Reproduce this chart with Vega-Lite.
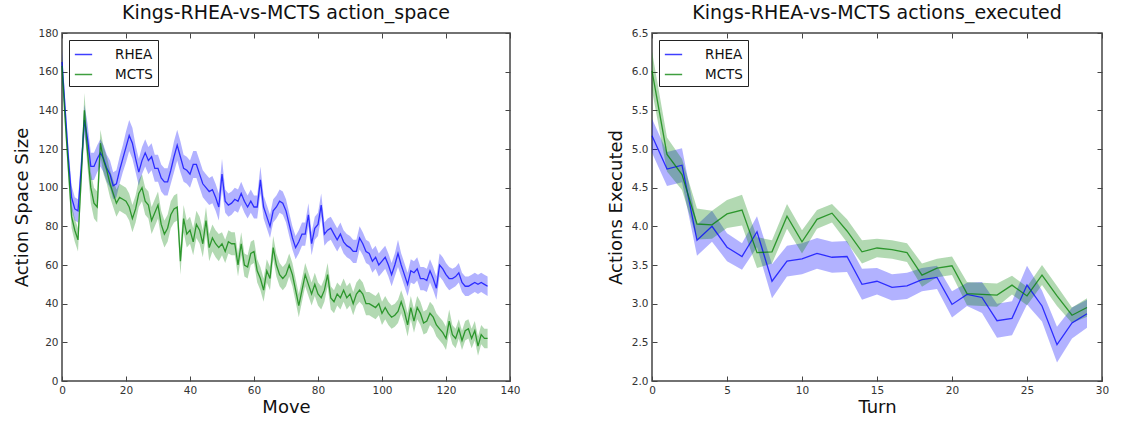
{
  "$schema": "https://vega.github.io/schema/vega-lite/v6.json",
  "padding": {"left": 13, "top": 3, "right": 5, "bottom": 5},
  "spacing": 85,
  "config": {
    "font": "DejaVu Sans",
    "view": {"stroke": "#444", "strokeWidth": 1.5},
    "axis": {"grid": false, "domain": false, "tickColor": "#444", "tickSize": -5, "labelColor": "#333", "labelFontSize": 10.5, "labelPadding": 9, "labelOverlap": false, "labelFlush": false, "labelBound": false, "titleFontSize": 18, "titleFontWeight": "normal", "titleColor": "#111"},
    "title": {"fontSize": 19, "fontWeight": "normal", "color": "#111", "offset": 5},
    "legend": {"orient": "top-left", "offset": 7, "symbolType": "stroke", "symbolSize": 300, "symbolStrokeWidth": 1.5, "symbolOpacity": 0.75, "labelFontSize": 13.5, "labelColor": "#111", "strokeColor": "#222", "fillColor": "white", "padding": 5, "rowPadding": 4, "labelOffset": 22, "title": null}
  },
  "datasets": {
    "space": [
      {"m":0,"s":"RHEA","v":165,"e":6},{"m":1,"s":"RHEA","v":140,"e":6},{"m":2,"s":"RHEA","v":115,"e":6},{"m":3,"s":"RHEA","v":95,"e":6},{"m":4,"s":"RHEA","v":89,"e":6},{"m":5,"s":"RHEA","v":88,"e":6},{"m":6,"s":"RHEA","v":110,"e":7},{"m":7,"s":"RHEA","v":135,"e":8},{"m":8,"s":"RHEA","v":125,"e":8},{"m":9,"s":"RHEA","v":111,"e":7},
      {"m":10,"s":"RHEA","v":111,"e":7},{"m":11,"s":"RHEA","v":115,"e":7},{"m":12,"s":"RHEA","v":118,"e":7},{"m":13,"s":"RHEA","v":115,"e":7},{"m":14,"s":"RHEA","v":110,"e":7},{"m":15,"s":"RHEA","v":107,"e":7},{"m":16,"s":"RHEA","v":101,"e":7},{"m":17,"s":"RHEA","v":102,"e":7},{"m":18,"s":"RHEA","v":109,"e":7},{"m":19,"s":"RHEA","v":115,"e":7},
      {"m":20,"s":"RHEA","v":121,"e":8},{"m":21,"s":"RHEA","v":127,"e":8},{"m":22,"s":"RHEA","v":123,"e":8},{"m":23,"s":"RHEA","v":115,"e":7},{"m":24,"s":"RHEA","v":108,"e":7},{"m":25,"s":"RHEA","v":114,"e":7},{"m":26,"s":"RHEA","v":118,"e":7},{"m":27,"s":"RHEA","v":114,"e":7},{"m":28,"s":"RHEA","v":116,"e":7},{"m":29,"s":"RHEA","v":110,"e":7},
      {"m":30,"s":"RHEA","v":110,"e":7},{"m":31,"s":"RHEA","v":105,"e":7},{"m":32,"s":"RHEA","v":103,"e":7},{"m":33,"s":"RHEA","v":103,"e":7},{"m":34,"s":"RHEA","v":109,"e":7},{"m":35,"s":"RHEA","v":116,"e":8},{"m":36,"s":"RHEA","v":122,"e":8},{"m":37,"s":"RHEA","v":116,"e":8},{"m":38,"s":"RHEA","v":110,"e":7},{"m":39,"s":"RHEA","v":109,"e":7},
      {"m":40,"s":"RHEA","v":107,"e":7},{"m":41,"s":"RHEA","v":112,"e":7},{"m":42,"s":"RHEA","v":112,"e":7},{"m":43,"s":"RHEA","v":107,"e":7},{"m":44,"s":"RHEA","v":102,"e":7},{"m":45,"s":"RHEA","v":100,"e":7},{"m":46,"s":"RHEA","v":98,"e":7},{"m":47,"s":"RHEA","v":99,"e":7},{"m":48,"s":"RHEA","v":95,"e":7},{"m":49,"s":"RHEA","v":90,"e":7},
      {"m":50,"s":"RHEA","v":107,"e":8},{"m":51,"s":"RHEA","v":93,"e":6},{"m":52,"s":"RHEA","v":91,"e":6},{"m":53,"s":"RHEA","v":92,"e":6},{"m":54,"s":"RHEA","v":94,"e":6},{"m":55,"s":"RHEA","v":93,"e":6},{"m":56,"s":"RHEA","v":97,"e":6},{"m":57,"s":"RHEA","v":93,"e":6},{"m":58,"s":"RHEA","v":90,"e":6},{"m":59,"s":"RHEA","v":93,"e":6},
      {"m":60,"s":"RHEA","v":90,"e":6},{"m":61,"s":"RHEA","v":90,"e":6},{"m":62,"s":"RHEA","v":104,"e":7},{"m":63,"s":"RHEA","v":90,"e":6},{"m":64,"s":"RHEA","v":85,"e":6},{"m":65,"s":"RHEA","v":80,"e":6},{"m":66,"s":"RHEA","v":88,"e":6},{"m":67,"s":"RHEA","v":90,"e":6},{"m":68,"s":"RHEA","v":93,"e":6},{"m":69,"s":"RHEA","v":92,"e":6},
      {"m":70,"s":"RHEA","v":88,"e":6},{"m":71,"s":"RHEA","v":81,"e":6},{"m":72,"s":"RHEA","v":74,"e":6},{"m":73,"s":"RHEA","v":69,"e":6},{"m":74,"s":"RHEA","v":72,"e":6},{"m":75,"s":"RHEA","v":76,"e":6},{"m":76,"s":"RHEA","v":76,"e":6},{"m":77,"s":"RHEA","v":86,"e":6},{"m":78,"s":"RHEA","v":71,"e":6},{"m":79,"s":"RHEA","v":79,"e":6},
      {"m":80,"s":"RHEA","v":81,"e":6},{"m":81,"s":"RHEA","v":91,"e":6},{"m":82,"s":"RHEA","v":76,"e":6},{"m":83,"s":"RHEA","v":78,"e":6},{"m":84,"s":"RHEA","v":79,"e":6},{"m":85,"s":"RHEA","v":76,"e":6},{"m":86,"s":"RHEA","v":73,"e":6},{"m":87,"s":"RHEA","v":76,"e":6},{"m":88,"s":"RHEA","v":72,"e":6},{"m":89,"s":"RHEA","v":70,"e":6},
      {"m":90,"s":"RHEA","v":69,"e":6},{"m":91,"s":"RHEA","v":67,"e":6},{"m":92,"s":"RHEA","v":67,"e":6},{"m":93,"s":"RHEA","v":74,"e":6},{"m":94,"s":"RHEA","v":71,"e":6},{"m":95,"s":"RHEA","v":67,"e":6},{"m":96,"s":"RHEA","v":66,"e":6},{"m":97,"s":"RHEA","v":62,"e":6},{"m":98,"s":"RHEA","v":64,"e":6},{"m":99,"s":"RHEA","v":60,"e":6},
      {"m":100,"s":"RHEA","v":62,"e":6},{"m":101,"s":"RHEA","v":64,"e":6},{"m":102,"s":"RHEA","v":60,"e":6},{"m":103,"s":"RHEA","v":55,"e":6},{"m":104,"s":"RHEA","v":60,"e":6},{"m":105,"s":"RHEA","v":66,"e":7},{"m":106,"s":"RHEA","v":60,"e":6},{"m":107,"s":"RHEA","v":55,"e":6},{"m":108,"s":"RHEA","v":50,"e":6},{"m":109,"s":"RHEA","v":57,"e":6},
      {"m":110,"s":"RHEA","v":56,"e":6},{"m":111,"s":"RHEA","v":58,"e":6},{"m":112,"s":"RHEA","v":53,"e":6},{"m":113,"s":"RHEA","v":53,"e":6},{"m":114,"s":"RHEA","v":52,"e":6},{"m":115,"s":"RHEA","v":57,"e":6},{"m":116,"s":"RHEA","v":53,"e":6},{"m":117,"s":"RHEA","v":48,"e":6},{"m":118,"s":"RHEA","v":60,"e":6},{"m":119,"s":"RHEA","v":58,"e":6},
      {"m":120,"s":"RHEA","v":55,"e":6},{"m":121,"s":"RHEA","v":53,"e":6},{"m":122,"s":"RHEA","v":53,"e":5},{"m":123,"s":"RHEA","v":54,"e":5},{"m":124,"s":"RHEA","v":56,"e":5},{"m":125,"s":"RHEA","v":51,"e":5},{"m":126,"s":"RHEA","v":49,"e":5},{"m":127,"s":"RHEA","v":49,"e":5},{"m":128,"s":"RHEA","v":50,"e":5},{"m":129,"s":"RHEA","v":51,"e":5},
      {"m":130,"s":"RHEA","v":50,"e":5},{"m":131,"s":"RHEA","v":51,"e":5},{"m":132,"s":"RHEA","v":50,"e":5},{"m":133,"s":"RHEA","v":49,"e":5},
      {"m":0,"s":"MCTS","v":163,"e":6},{"m":1,"s":"MCTS","v":135,"e":6},{"m":2,"s":"MCTS","v":110,"e":6},{"m":3,"s":"MCTS","v":85,"e":6},{"m":4,"s":"MCTS","v":78,"e":6},{"m":5,"s":"MCTS","v":73,"e":6},{"m":6,"s":"MCTS","v":105,"e":7},{"m":7,"s":"MCTS","v":140,"e":9},{"m":8,"s":"MCTS","v":118,"e":8},{"m":9,"s":"MCTS","v":100,"e":8},
      {"m":10,"s":"MCTS","v":92,"e":8},{"m":11,"s":"MCTS","v":90,"e":8},{"m":12,"s":"MCTS","v":123,"e":7},{"m":13,"s":"MCTS","v":114,"e":7},{"m":14,"s":"MCTS","v":109,"e":7},{"m":15,"s":"MCTS","v":102,"e":7},{"m":16,"s":"MCTS","v":97,"e":7},{"m":17,"s":"MCTS","v":92,"e":7},{"m":18,"s":"MCTS","v":95,"e":7},{"m":19,"s":"MCTS","v":94,"e":7},
      {"m":20,"s":"MCTS","v":93,"e":7},{"m":21,"s":"MCTS","v":90,"e":7},{"m":22,"s":"MCTS","v":84,"e":7},{"m":23,"s":"MCTS","v":89,"e":7},{"m":24,"s":"MCTS","v":97,"e":7},{"m":25,"s":"MCTS","v":100,"e":7},{"m":26,"s":"MCTS","v":93,"e":7},{"m":27,"s":"MCTS","v":91,"e":7},{"m":28,"s":"MCTS","v":83,"e":7},{"m":29,"s":"MCTS","v":87,"e":7},
      {"m":30,"s":"MCTS","v":91,"e":7},{"m":31,"s":"MCTS","v":81,"e":7},{"m":32,"s":"MCTS","v":76,"e":7},{"m":33,"s":"MCTS","v":79,"e":7},{"m":34,"s":"MCTS","v":86,"e":7},{"m":35,"s":"MCTS","v":89,"e":7},{"m":36,"s":"MCTS","v":90,"e":7},{"m":37,"s":"MCTS","v":62,"e":7},{"m":38,"s":"MCTS","v":84,"e":7},{"m":39,"s":"MCTS","v":76,"e":7},
      {"m":40,"s":"MCTS","v":78,"e":7},{"m":41,"s":"MCTS","v":72,"e":7},{"m":42,"s":"MCTS","v":81,"e":7},{"m":43,"s":"MCTS","v":78,"e":7},{"m":44,"s":"MCTS","v":71,"e":7},{"m":45,"s":"MCTS","v":83,"e":7},{"m":46,"s":"MCTS","v":69,"e":7},{"m":47,"s":"MCTS","v":74,"e":7},{"m":48,"s":"MCTS","v":71,"e":7},{"m":49,"s":"MCTS","v":69,"e":7},
      {"m":50,"s":"MCTS","v":71,"e":6},{"m":51,"s":"MCTS","v":67,"e":6},{"m":52,"s":"MCTS","v":72,"e":6},{"m":53,"s":"MCTS","v":71,"e":6},{"m":54,"s":"MCTS","v":71,"e":6},{"m":55,"s":"MCTS","v":60,"e":6},{"m":56,"s":"MCTS","v":71,"e":6},{"m":57,"s":"MCTS","v":60,"e":6},{"m":58,"s":"MCTS","v":59,"e":6},{"m":59,"s":"MCTS","v":66,"e":6},
      {"m":60,"s":"MCTS","v":67,"e":6},{"m":61,"s":"MCTS","v":57,"e":6},{"m":62,"s":"MCTS","v":53,"e":6},{"m":63,"s":"MCTS","v":47,"e":6},{"m":64,"s":"MCTS","v":57,"e":6},{"m":65,"s":"MCTS","v":53,"e":6},{"m":66,"s":"MCTS","v":69,"e":6},{"m":67,"s":"MCTS","v":60,"e":6},{"m":68,"s":"MCTS","v":55,"e":6},{"m":69,"s":"MCTS","v":53,"e":6},
      {"m":70,"s":"MCTS","v":55,"e":6},{"m":71,"s":"MCTS","v":60,"e":6},{"m":72,"s":"MCTS","v":55,"e":6},{"m":73,"s":"MCTS","v":47,"e":6},{"m":74,"s":"MCTS","v":39,"e":6},{"m":75,"s":"MCTS","v":47,"e":6},{"m":76,"s":"MCTS","v":55,"e":6},{"m":77,"s":"MCTS","v":50,"e":6},{"m":78,"s":"MCTS","v":45,"e":6},{"m":79,"s":"MCTS","v":50,"e":6},
      {"m":80,"s":"MCTS","v":45,"e":6},{"m":81,"s":"MCTS","v":43,"e":6},{"m":82,"s":"MCTS","v":47,"e":6},{"m":83,"s":"MCTS","v":55,"e":6},{"m":84,"s":"MCTS","v":43,"e":6},{"m":85,"s":"MCTS","v":41,"e":6},{"m":86,"s":"MCTS","v":45,"e":6},{"m":87,"s":"MCTS","v":43,"e":6},{"m":88,"s":"MCTS","v":47,"e":6},{"m":89,"s":"MCTS","v":43,"e":6},
      {"m":90,"s":"MCTS","v":45,"e":6},{"m":91,"s":"MCTS","v":40,"e":6},{"m":92,"s":"MCTS","v":45,"e":6},{"m":93,"s":"MCTS","v":47,"e":6},{"m":94,"s":"MCTS","v":45,"e":6},{"m":95,"s":"MCTS","v":40,"e":6},{"m":96,"s":"MCTS","v":40,"e":6},{"m":97,"s":"MCTS","v":39,"e":6},{"m":98,"s":"MCTS","v":38,"e":6},{"m":99,"s":"MCTS","v":40,"e":6},
      {"m":100,"s":"MCTS","v":35,"e":6},{"m":101,"s":"MCTS","v":38,"e":6},{"m":102,"s":"MCTS","v":35,"e":6},{"m":103,"s":"MCTS","v":33,"e":6},{"m":104,"s":"MCTS","v":34,"e":6},{"m":105,"s":"MCTS","v":36,"e":6},{"m":106,"s":"MCTS","v":41,"e":6},{"m":107,"s":"MCTS","v":36,"e":6},{"m":108,"s":"MCTS","v":29,"e":6},{"m":109,"s":"MCTS","v":38,"e":6},
      {"m":110,"s":"MCTS","v":31,"e":6},{"m":111,"s":"MCTS","v":38,"e":6},{"m":112,"s":"MCTS","v":35,"e":6},{"m":113,"s":"MCTS","v":30,"e":6},{"m":114,"s":"MCTS","v":31,"e":6},{"m":115,"s":"MCTS","v":35,"e":6},{"m":116,"s":"MCTS","v":33,"e":6},{"m":117,"s":"MCTS","v":29,"e":6},{"m":118,"s":"MCTS","v":27,"e":6},{"m":119,"s":"MCTS","v":25,"e":6},
      {"m":120,"s":"MCTS","v":22,"e":6},{"m":121,"s":"MCTS","v":31,"e":6},{"m":122,"s":"MCTS","v":24,"e":5},{"m":123,"s":"MCTS","v":22,"e":5},{"m":124,"s":"MCTS","v":27,"e":5},{"m":125,"s":"MCTS","v":21,"e":5},{"m":126,"s":"MCTS","v":26,"e":5},{"m":127,"s":"MCTS","v":27,"e":5},{"m":128,"s":"MCTS","v":22,"e":5},{"m":129,"s":"MCTS","v":26,"e":5},
      {"m":130,"s":"MCTS","v":18,"e":5},{"m":131,"s":"MCTS","v":24,"e":5},{"m":132,"s":"MCTS","v":22,"e":5},{"m":133,"s":"MCTS","v":22,"e":5}
    ],
    "exec": [
      {"t":0,"s":"RHEA","v":5.17,"e":0.22},{"t":1,"s":"RHEA","v":4.74,"e":0.22},{"t":2,"s":"RHEA","v":4.79,"e":0.22},{"t":3,"s":"RHEA","v":3.82,"e":0.2},{"t":4,"s":"RHEA","v":4.0,"e":0.2},{"t":5,"s":"RHEA","v":3.73,"e":0.18},{"t":6,"s":"RHEA","v":3.61,"e":0.17},{"t":7,"s":"RHEA","v":3.93,"e":0.2},{"t":8,"s":"RHEA","v":3.29,"e":0.22},{"t":9,"s":"RHEA","v":3.55,"e":0.2},
      {"t":10,"s":"RHEA","v":3.58,"e":0.2},{"t":11,"s":"RHEA","v":3.65,"e":0.2},{"t":12,"s":"RHEA","v":3.6,"e":0.2},{"t":13,"s":"RHEA","v":3.61,"e":0.2},{"t":14,"s":"RHEA","v":3.25,"e":0.2},{"t":15,"s":"RHEA","v":3.29,"e":0.17},{"t":16,"s":"RHEA","v":3.21,"e":0.17},{"t":17,"s":"RHEA","v":3.23,"e":0.17},{"t":18,"s":"RHEA","v":3.31,"e":0.15},{"t":19,"s":"RHEA","v":3.34,"e":0.15},
      {"t":20,"s":"RHEA","v":2.99,"e":0.17},{"t":21,"s":"RHEA","v":3.12,"e":0.15},{"t":22,"s":"RHEA","v":3.08,"e":0.2},{"t":23,"s":"RHEA","v":2.78,"e":0.22},{"t":24,"s":"RHEA","v":2.81,"e":0.22},{"t":25,"s":"RHEA","v":3.24,"e":0.25},{"t":26,"s":"RHEA","v":2.97,"e":0.2},{"t":27,"s":"RHEA","v":2.47,"e":0.23},{"t":28,"s":"RHEA","v":2.75,"e":0.2},{"t":29,"s":"RHEA","v":2.87,"e":0.18},
      {"t":0,"s":"MCTS","v":6.01,"e":0.25},{"t":1,"s":"MCTS","v":4.93,"e":0.22},{"t":2,"s":"MCTS","v":4.67,"e":0.2},{"t":3,"s":"MCTS","v":4.03,"e":0.2},{"t":4,"s":"MCTS","v":4.02,"e":0.18},{"t":5,"s":"MCTS","v":4.16,"e":0.18},{"t":6,"s":"MCTS","v":4.21,"e":0.2},{"t":7,"s":"MCTS","v":3.66,"e":0.2},{"t":8,"s":"MCTS","v":3.67,"e":0.15},{"t":9,"s":"MCTS","v":4.13,"e":0.16},
      {"t":10,"s":"MCTS","v":3.8,"e":0.15},{"t":11,"s":"MCTS","v":4.09,"e":0.12},{"t":12,"s":"MCTS","v":4.17,"e":0.12},{"t":13,"s":"MCTS","v":3.94,"e":0.15},{"t":14,"s":"MCTS","v":3.67,"e":0.15},{"t":15,"s":"MCTS","v":3.72,"e":0.12},{"t":16,"s":"MCTS","v":3.7,"e":0.12},{"t":17,"s":"MCTS","v":3.66,"e":0.12},{"t":18,"s":"MCTS","v":3.37,"e":0.15},{"t":19,"s":"MCTS","v":3.46,"e":0.12},
      {"t":20,"s":"MCTS","v":3.49,"e":0.12},{"t":21,"s":"MCTS","v":3.13,"e":0.15},{"t":22,"s":"MCTS","v":3.12,"e":0.15},{"t":23,"s":"MCTS","v":3.11,"e":0.15},{"t":24,"s":"MCTS","v":3.24,"e":0.12},{"t":25,"s":"MCTS","v":3.1,"e":0.12},{"t":26,"s":"MCTS","v":3.37,"e":0.13},{"t":27,"s":"MCTS","v":3.1,"e":0.13},{"t":28,"s":"MCTS","v":2.85,"e":0.1},{"t":29,"s":"MCTS","v":2.95,"e":0.12}
    ]
  },
  "hconcat": [
    {
      "width": 448, "height": 348,
      "title": "Kings-RHEA-vs-MCTS action_space",
      "data": {"name": "space"},
      "layer": [
        {"layer": [
          {"mark": {"type": "errorband", "opacity": 0.3},
           "encoding": {
             "x": {"field": "m", "type": "quantitative", "scale": {"domain": [0, 140], "nice": false}, "axis": {"values": [0,20,40,60,80,100,120,140], "title": "Move", "titlePadding": 3, "labelOverlap": false}},
             "y": {"field": "v", "type": "quantitative", "scale": {"domain": [0, 180], "nice": false}, "axis": {"values": [0,20,40,60,80,100,120,140,160,180], "title": "Action Space Size", "titlePadding": 6, "labelOverlap": false}},
             "yError": {"field": "e"},
             "color": {"field": "s", "type": "nominal", "scale": {"domain": ["RHEA", "MCTS"], "range": ["#0000ff", "#008000"]}}
           }},
          {"mark": {"type": "line", "opacity": 0.75, "strokeWidth": 1.3},
           "encoding": {
             "x": {"field": "m", "type": "quantitative", "axis": {"values": [0,20,40,60,80,100,120,140], "title": "Move", "titlePadding": 3, "labelOverlap": false}},
             "y": {"field": "v", "type": "quantitative", "axis": {"values": [0,20,40,60,80,100,120,140,160,180], "title": "Action Space Size", "titlePadding": 6, "labelOverlap": false}},
             "color": {"field": "s", "type": "nominal", "scale": {"domain": ["RHEA", "MCTS"], "range": ["#0000ff", "#008000"]}}
           }}
        ]},
        {"mark": {"type": "point", "opacity": 0},
         "encoding": {
           "x": {"field": "m", "type": "quantitative", "axis": {"orient": "top", "values": [0,20,40,60,80,100,120,140], "labels": false, "title": null}},
           "y": {"field": "v", "type": "quantitative", "axis": {"orient": "right", "values": [0,20,40,60,80,100,120,140,160,180], "labels": false, "title": null}}
         }}
      ],
      "resolve": {"axis": {"x": "independent", "y": "independent"}}
    },
    {
      "width": 450, "height": 348,
      "title": "Kings-RHEA-vs-MCTS actions_executed",
      "data": {"name": "exec"},
      "layer": [
        {"layer": [
          {"mark": {"type": "errorband", "opacity": 0.3},
           "encoding": {
             "x": {"field": "t", "type": "quantitative", "scale": {"domain": [0, 30], "nice": false}, "axis": {"values": [0,5,10,15,20,25,30], "title": "Turn", "titlePadding": 3, "labelOverlap": false}},
             "y": {"field": "v", "type": "quantitative", "scale": {"domain": [2, 6.5], "nice": false}, "axis": {"values": [2,2.5,3,3.5,4,4.5,5,5.5,6,6.5], "format": ".1f", "title": "Actions Executed", "titlePadding": 6, "labelOverlap": false}},
             "yError": {"field": "e"},
             "color": {"field": "s", "type": "nominal", "scale": {"domain": ["RHEA", "MCTS"], "range": ["#0000ff", "#008000"]}}
           }},
          {"mark": {"type": "line", "opacity": 0.75, "strokeWidth": 1.3},
           "encoding": {
             "x": {"field": "t", "type": "quantitative", "axis": {"values": [0,5,10,15,20,25,30], "title": "Turn", "titlePadding": 3, "labelOverlap": false}},
             "y": {"field": "v", "type": "quantitative", "axis": {"values": [2,2.5,3,3.5,4,4.5,5,5.5,6,6.5], "format": ".1f", "title": "Actions Executed", "titlePadding": 6, "labelOverlap": false}},
             "color": {"field": "s", "type": "nominal", "scale": {"domain": ["RHEA", "MCTS"], "range": ["#0000ff", "#008000"]}}
           }}
        ]},
        {"mark": {"type": "point", "opacity": 0},
         "encoding": {
           "x": {"field": "t", "type": "quantitative", "axis": {"orient": "top", "values": [0,5,10,15,20,25,30], "labels": false, "title": null}},
           "y": {"field": "v", "type": "quantitative", "axis": {"orient": "right", "values": [2,2.5,3,3.5,4,4.5,5,5.5,6,6.5], "labels": false, "title": null}}
         }}
      ],
      "resolve": {"axis": {"x": "independent", "y": "independent"}}
    }
  ],
  "resolve": {"scale": {"color": "independent"}, "legend": {"color": "independent"}}
}
